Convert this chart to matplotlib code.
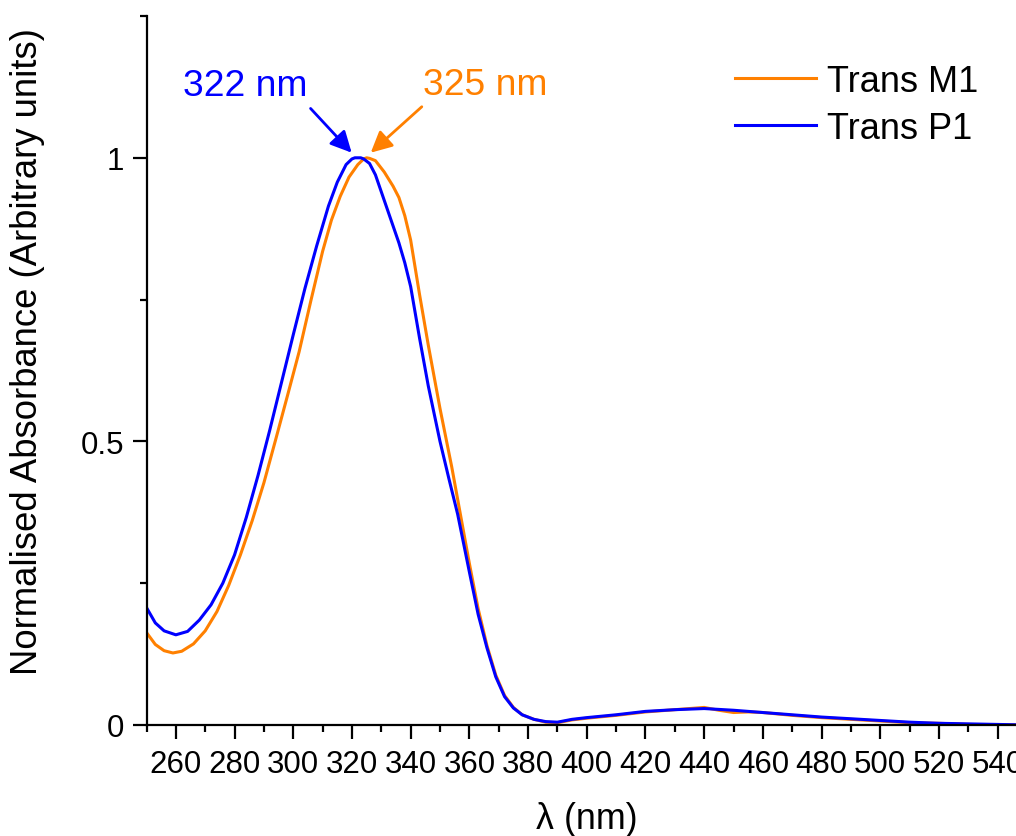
import matplotlib
matplotlib.use("Agg")
import matplotlib.pyplot as plt
from matplotlib.ticker import MultipleLocator, FixedLocator, FixedFormatter

plt.rcParams['font.family'] = ['Liberation Sans', 'DejaVu Sans']

# Trans P1 absorption spectrum (normalised)
wl_p1 = [250, 253, 256, 260, 264, 268, 272, 276, 280, 284, 288, 292, 296, 300,
         304, 308, 312, 315, 318, 320, 321, 322, 323, 324, 326, 328, 330, 333,
         336, 338, 340, 343, 346, 350, 353, 356, 360, 363, 366, 369, 372, 375,
         378, 382, 386, 390, 395, 400, 410, 420, 430, 440, 450, 460, 470, 480,
         490, 500, 510, 520, 530, 540, 550]
abs_p1 = [0.207, 0.180, 0.166, 0.159, 0.165, 0.185, 0.212, 0.250, 0.300, 0.366,
          0.440, 0.520, 0.604, 0.688, 0.770, 0.845, 0.915, 0.957, 0.988, 0.998,
          1.000, 1.000, 1.000, 0.998, 0.990, 0.970, 0.940, 0.895, 0.850, 0.815,
          0.773, 0.683, 0.598, 0.500, 0.435, 0.372, 0.270, 0.195, 0.136, 0.085,
          0.050, 0.030, 0.018, 0.010, 0.006, 0.005, 0.010, 0.013, 0.018, 0.024,
          0.027, 0.029, 0.026, 0.022, 0.018, 0.014, 0.011, 0.008, 0.005, 0.003,
          0.002, 0.001, 0.000]

# Trans M1 absorption spectrum (normalised)
wl_m1 = [250, 253, 256, 259, 262, 266, 270, 274, 278, 282, 286, 290, 294, 298,
         302, 306, 310, 313, 316, 319, 322, 324, 325, 326, 328, 331, 334, 336,
         338, 340, 343, 346, 350, 354, 357, 360, 363, 366, 369, 372, 375, 378,
         382, 386, 390, 395, 400, 410, 420, 430, 440, 445, 450, 455, 460, 470,
         480, 490, 500, 510, 520, 530, 540, 550]
abs_m1 = [0.163, 0.142, 0.131, 0.127, 0.130, 0.143, 0.166, 0.200, 0.246, 0.300,
          0.360, 0.427, 0.503, 0.580, 0.658, 0.748, 0.835, 0.890, 0.932, 0.966,
          0.988, 0.998, 1.000, 0.999, 0.995, 0.975, 0.950, 0.930, 0.898, 0.855,
          0.760, 0.670, 0.558, 0.455, 0.370, 0.285, 0.205, 0.140, 0.088, 0.052,
          0.031, 0.018, 0.010, 0.005, 0.004, 0.009, 0.012, 0.017, 0.023, 0.027,
          0.031, 0.026, 0.022, 0.023, 0.022, 0.017, 0.013, 0.010, 0.007, 0.004,
          0.003, 0.001, 0.000, 0.000]

peak_p1 = 322
peak_m1 = 325

x_ticks = list(range(260, 541, 20))
y_ticks = [0, 0.5, 1]
y_tick_labels = ["0", "0.5", "1"]

ORANGE = "#FF8000"
BLUE = "#0000FF"

W, H = 1016, 837
fig = plt.figure(figsize=(W / 100, H / 100), dpi=100)
# axes: x from 250 to 550, right end runs past the figure edge
left_px, bottom_px, top_px = 146.5, 726, 17
px_per_nm = 2.935
ax = fig.add_axes([left_px / W, (H - bottom_px) / H,
                   300 * px_per_nm / W, (bottom_px - top_px) / H])

ax.plot(wl_m1, abs_m1, color=ORANGE, lw=2.2, label="Trans M1")
ax.plot(wl_p1, abs_p1, color=BLUE, lw=2.2, label="Trans P1")

ax.set_xlim(250, 550)
ax.set_ylim(0, 1.25)

for s in ("top", "right"):
    ax.spines[s].set_visible(False)
for s in ("left", "bottom"):
    ax.spines[s].set_linewidth(1.6)

ax.xaxis.set_major_locator(FixedLocator(x_ticks))
ax.xaxis.set_minor_locator(MultipleLocator(10))
ax.yaxis.set_major_locator(FixedLocator(y_ticks))
ax.yaxis.set_major_formatter(FixedFormatter(y_tick_labels))
ax.yaxis.set_minor_locator(MultipleLocator(0.25))
ax.tick_params(which="major", direction="out", length=10, width=1.6,
               labelsize=22.5)
ax.tick_params(which="minor", direction="out", length=5, width=1.6)
ax.tick_params(axis="x", which="major", pad=7)
ax.tick_params(axis="y", which="major", pad=6)

# peak annotations
arrow_kw = dict(arrowstyle="-|>", lw=2.0, mutation_scale=32,
                shrinkA=0, shrinkB=0)
ax.annotate("", xy=(319.9, 1.009), xytext=(305.9, 1.087),
            arrowprops=dict(color=BLUE, **arrow_kw))
ax.annotate("", xy=(326.4, 1.009), xytext=(343.8, 1.090),
            arrowprops=dict(color=ORANGE, **arrow_kw))
ax.text(262.4, 1.110, f"{peak_p1} nm", color=BLUE, fontsize=26.8,
        ha="left", va="baseline")
ax.text(344.1, 1.113, f"{peak_m1} nm", color=ORANGE, fontsize=26.8,
        ha="left", va="baseline")

leg = ax.legend(loc="upper left", bbox_to_anchor=(735 / W, (H - 65) / H),
                bbox_transform=fig.transFigure, frameon=False, fontsize=26,
                handlelength=2.25, handletextpad=0.3, labelspacing=0.32,
                borderpad=0, borderaxespad=0)
for line in leg.get_lines():
    line.set_linewidth(2.2)

fig.text(28 / W, 1 - 352 / H, "Normalised Absorbance (Arbitrary units)",
         rotation=90, ha="center", va="center", fontsize=26.3)
fig.text(586.7 / W, (H - 829) / H, "λ (nm)", ha="center", va="baseline",
         fontsize=25.8)

fig.savefig("out.png", dpi=100)
